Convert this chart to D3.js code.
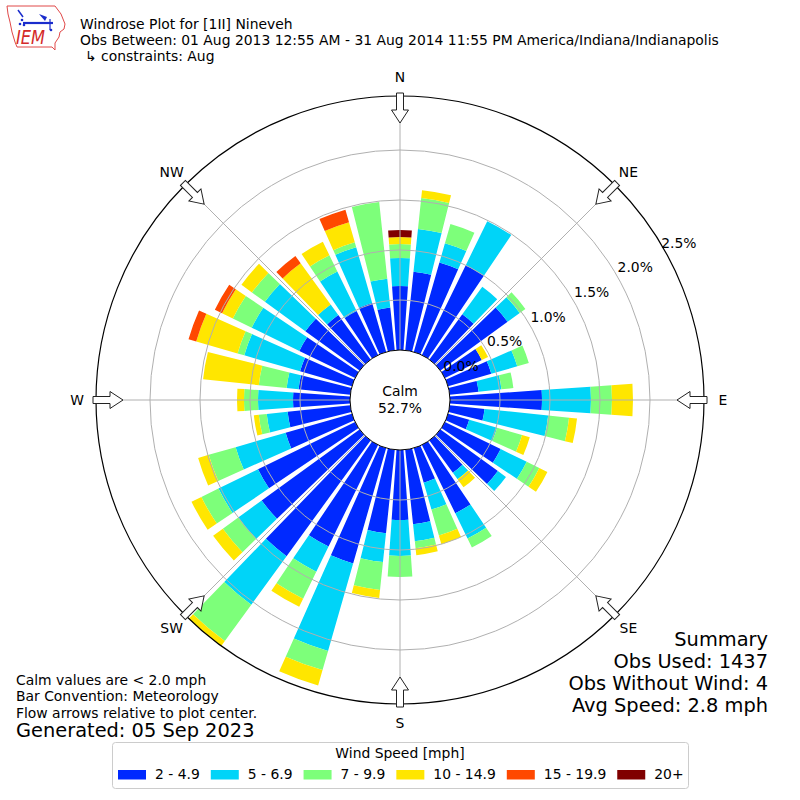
<!DOCTYPE html>
<html>
<head>
<meta charset="utf-8">
<script src="https://cdn.jsdelivr.net/npm/d3@7"></script>
<style>
body { margin: 0; background: #fff; }
text { font-family: "DejaVu Sans", sans-serif; }
</style>
</head>
<body>
<script>
// direction bins (degrees, meteorological convention)
var directions = [0,10,20,30,40,50,60,70,80,90,100,110,120,130,140,150,160,170,
                  180,190,200,210,220,230,240,250,260,270,280,290,300,310,320,330,340,350];

var speedLabels = ["2 - 4.9", "5 - 6.9", "7 - 9.9", "10 - 14.9", "15 - 19.9", "20+"];
var speedColors = ["#0029ff", "#00d4f8", "#7dff7a", "#ffe600", "#ff4800", "#800000"];

// frequency (%) per direction, one array per speed bin
var spd2to5 = [0.64,0.79,0.93,1.00,0.56,0.83,0.41,0.45,0.29,0.92,0.35,0.22,0.62,0.71,0.40,0.76,0.36,0.75,
               0.70,0.84,1.20,1.13,1.43,1.21,1.08,0.69,0.63,0.57,0.52,0.54,0.62,0.67,0.55,0.49,0.51,0.43];
var spd5to7 = [0.28,0.43,0.20,0.49,0.34,0.15,0.00,0.27,0.23,0.49,0.64,0.29,0.29,0.10,0.08,0.28,0.28,0.17,
               0.36,0.29,0.91,0.28,0.60,0.29,0.44,0.52,0.21,0.35,0.12,0.58,0.53,0.50,0.13,0.44,0.58,0.29];
var spd7to10 = [0.14,0.31,0.20,0.00,0.00,0.07,0.00,0.12,0.12,0.21,0.21,0.26,0.14,0.00,0.00,0.10,0.27,0.07,
                0.21,0.28,0.20,0.30,0.45,0.19,0.19,0.28,0.08,0.14,0.28,0.07,0.21,0.16,0.00,0.18,0.05,0.77];
var spd10to15 = [0.07,0.08,0.00,0.00,0.00,0.00,0.07,0.00,0.00,0.21,0.08,0.08,0.09,0.00,0.10,0.00,0.09,0.07,
                 0.00,0.08,0.16,0.09,0.12,0.12,0.11,0.11,0.05,0.07,0.56,0.43,0.12,0.13,0.51,0.15,0.21,0.00];
var spd15to20 = [0,0,0,0,0,0,0,0,0,0,0,0,0,0,0,0,0,0,
                 0,0,0,0,0,0,0,0,0,0,0,0.08,0.08,0,0.09,0,0.13,0];
var spd20up = [0.07,0,0,0,0,0,0,0,0,0,0,0,0,0,0,0,0,0,
               0,0,0,0,0,0,0,0,0,0,0,0,0,0,0,0,0,0];

var ringTicks = [0.0, 0.5, 1.0, 1.5, 2.0, 2.5];
var compassLabels = ["N", "NE", "E", "SE", "S", "SW", "W", "NW"];

var titleLines = ["Windrose Plot for [1II] Nineveh",
                  "Obs Between: 01 Aug 2013 12:55 AM - 31 Aug 2014 11:55 PM America/Indiana/Indianapolis",
                  "\u21b3 constraints: Aug"];
var noteLines = ["Calm values are < 2.0 mph", "Bar Convention: Meteorology", "Flow arrows relative to plot center."];
var summaryLines = ["Summary", "Obs Used: 1437", "Obs Without Wind: 4", "Avg Speed: 2.8 mph"];
var calmText = ["Calm", "52.7%"];

var side = 800, cx = 400, cy = 400;
var rOuter = 304;
var fs = 13.9, fsBig = 19.4;   // 10pt and 14pt

var svg = d3.select("body").append("svg")
    .attr("width", side)
    .attr("height", side);

svg.append("rect").attr("width", side).attr("height", side).attr("fill", "#fff");

// scales
var r = d3.scaleLinear().domain([0, 2.54]).range([50, rOuter]);
var ang = d3.scaleLinear().domain([0, 360]).range([0, 2 * Math.PI]);

var series = [spd2to5, spd5to7, spd7to10, spd10to15, spd15to20, spd20up];
var table = directions.map(function(d, i) {
    var row = {dir: d};
    series.forEach(function(s, k) { row[k] = s[i]; });
    return row;
});
var stacked = d3.stack().keys(d3.range(series.length))(table);

var plot = svg.append("g").attr("transform", "translate(" + cx + "," + cy + ")");

plot.append("clipPath").attr("id", "roseclip")
    .append("circle").attr("r", rOuter);

var arc = d3.arc();
var bars = plot.append("g").attr("clip-path", "url(#roseclip)");

stacked.forEach(function(layer, k) {
    bars.selectAll(".b" + k)
        .data(layer.filter(function(p) { return p[1] - p[0] > 0; }))
        .enter()
        .append("path")
        .attr("d", function(p) {
            return arc({
                innerRadius: r(p[0]),
                outerRadius: r(p[1]),
                startAngle: ang(p.data.dir - 4),
                endAngle: ang(p.data.dir + 4)
            });
        })
        .attr("fill", speedColors[k]);
});

// grid on top of bars
var grid = plot.append("g").attr("fill", "none").attr("stroke", "#b0b0b0").attr("stroke-width", 1);
grid.selectAll("circle")
    .data(ringTicks.filter(function(t) { return t > 0 && r(t) < rOuter - 5; }))
    .enter().append("circle")
    .attr("r", function(t) { return r(t); });
grid.selectAll("line")
    .data(d3.range(0, 360, 45))
    .enter().append("line")
    .attr("x1", function(a) { return r(0) * Math.sin(ang(a)); })
    .attr("y1", function(a) { return -r(0) * Math.cos(ang(a)); })
    .attr("x2", function(a) { return rOuter * Math.sin(ang(a)); })
    .attr("y2", function(a) { return -rOuter * Math.cos(ang(a)); });

// calm circle
plot.append("circle").attr("r", r(0))
    .attr("fill", "#fff").attr("stroke", "#000").attr("stroke-width", 1);

plot.selectAll(".calm")
    .data(calmText)
    .enter().append("text")
    .attr("text-anchor", "middle")
    .attr("y", function(d, i) { return -4 + i * 17; })
    .attr("font-size", fs)
    .text(function(d) { return d; });

// outer frame
plot.append("circle").attr("r", rOuter)
    .attr("fill", "none").attr("stroke", "#000").attr("stroke-width", 1.2);

// inward flow arrows
plot.selectAll(".arrow")
    .data(d3.range(0, 360, 45))
    .enter().append("path")
    .attr("d", "M-3.5,-307L3.5,-307L3.5,-290L8.5,-290L0,-277L-8.5,-290L-3.5,-290Z")
    .attr("transform", function(a) { return "rotate(" + a + ")"; })
    .attr("fill", "#fff").attr("stroke", "#222").attr("stroke-width", 1);

// compass labels
plot.selectAll(".cmp")
    .data(compassLabels)
    .enter().append("text")
    .attr("x", function(d, i) { return 323 * Math.sin(ang(i * 45)); })
    .attr("y", function(d, i) { return -323 * Math.cos(ang(i * 45)); })
    .attr("text-anchor", "middle")
    .attr("dominant-baseline", "central")
    .attr("font-size", fs)
    .text(function(d) { return d; });

// ring labels
var labAng = ang(60.6);
plot.selectAll(".rl")
    .data(ringTicks)
    .enter().append("text")
    .attr("x", function(t) { return (r(t) + 20) * Math.sin(labAng); })
    .attr("y", function(t) { return -(r(t) + 20) * Math.cos(labAng); })
    .attr("text-anchor", "middle")
    .attr("dominant-baseline", "central")
    .attr("font-size", fs)
    .text(function(t) { return t.toFixed(1) + "%"; });

// titles
svg.selectAll(".title")
    .data(titleLines)
    .enter().append("text")
    .attr("x", function(d, i) { return i == 2 ? 85 : 80; })
    .attr("y", function(d, i) { return 28.5 + i * 16.3; })
    .attr("font-size", fs)
    .text(function(d) { return d; });

// notes bottom left
svg.selectAll(".note")
    .data(noteLines)
    .enter().append("text")
    .attr("x", 16)
    .attr("y", function(d, i) { return 685 + i * 16.3; })
    .attr("font-size", fs)
    .text(function(d) { return d; });
svg.append("text").attr("x", 16).attr("y", 737).attr("font-size", fsBig)
    .text("Generated: 05 Sep 2023");

// summary right
svg.selectAll(".sum")
    .data(summaryLines)
    .enter().append("text")
    .attr("x", 768)
    .attr("y", function(d, i) { return 646 + i * 22; })
    .attr("text-anchor", "end")
    .attr("font-size", fsBig)
    .text(function(d) { return d; });

// legend
var leg = svg.append("g");
leg.append("rect")
    .attr("x", 112.5).attr("y", 742.5).attr("width", 576).attr("height", 46)
    .attr("rx", 3).attr("fill", "#fff").attr("stroke", "#cccccc");
leg.append("text").attr("x", 400).attr("y", 758).attr("text-anchor", "middle")
    .attr("font-size", fs).text("Wind Speed [mph]");
var lx = 118;
speedLabels.forEach(function(lab, k) {
    leg.append("rect").attr("x", lx).attr("y", 770).attr("width", 28).attr("height", 9.5)
        .attr("fill", speedColors[k]);
    var t = leg.append("text").attr("x", lx + 37).attr("y", 779).attr("font-size", fs).text(lab);
    lx = lx + 37 + t.node().getComputedTextLength() + 11;
});

// IEM logo
var logo = svg.append("g");
logo.append("path")
    .attr("d", "M7,6L55,6L58,10L61,14L63,19L65,24L64,29L60,32L59,37L57,40L55,43L55,50L52,47L17,47L15,42L12,32L10,22L8,14Z")
    .attr("fill", "none").attr("stroke", "#e04848").attr("stroke-width", 1);
logo.append("line").attr("x1", 23).attr("y1", 23).attr("x2", 53).attr("y2", 23)
    .attr("stroke", "#1a2ccc").attr("stroke-width", 2.2);
logo.append("line").attr("x1", 18).attr("y1", 10).attr("x2", 23).attr("y2", 17)
    .attr("stroke", "#1a2ccc").attr("stroke-width", 1.5);
logo.append("path").attr("d", "M39,14L47,17L45,21Z").attr("fill", "#1a2ccc");
logo.append("line").attr("x1", 50).attr("y1", 19).attr("x2", 50).attr("y2", 30)
    .attr("stroke", "#1a2ccc").attr("stroke-width", 1.2);
logo.selectAll(".dot").data([[20, 24], [24, 25], [22, 20], [51, 30]])
    .enter().append("circle")
    .attr("cx", function(d) { return d[0]; }).attr("cy", function(d) { return d[1]; })
    .attr("r", 1.3).attr("fill", "#1a2ccc");
logo.append("text").attr("x", 16).attr("y", 44)
    .attr("font-family", "Liberation Serif, serif").attr("font-style", "italic")
    .attr("font-size", 19).attr("fill", "#d42a2a")
    .attr("textLength", 29).attr("lengthAdjust", "spacingAndGlyphs")
    .text("IEM");
</script>
</body>
</html>
